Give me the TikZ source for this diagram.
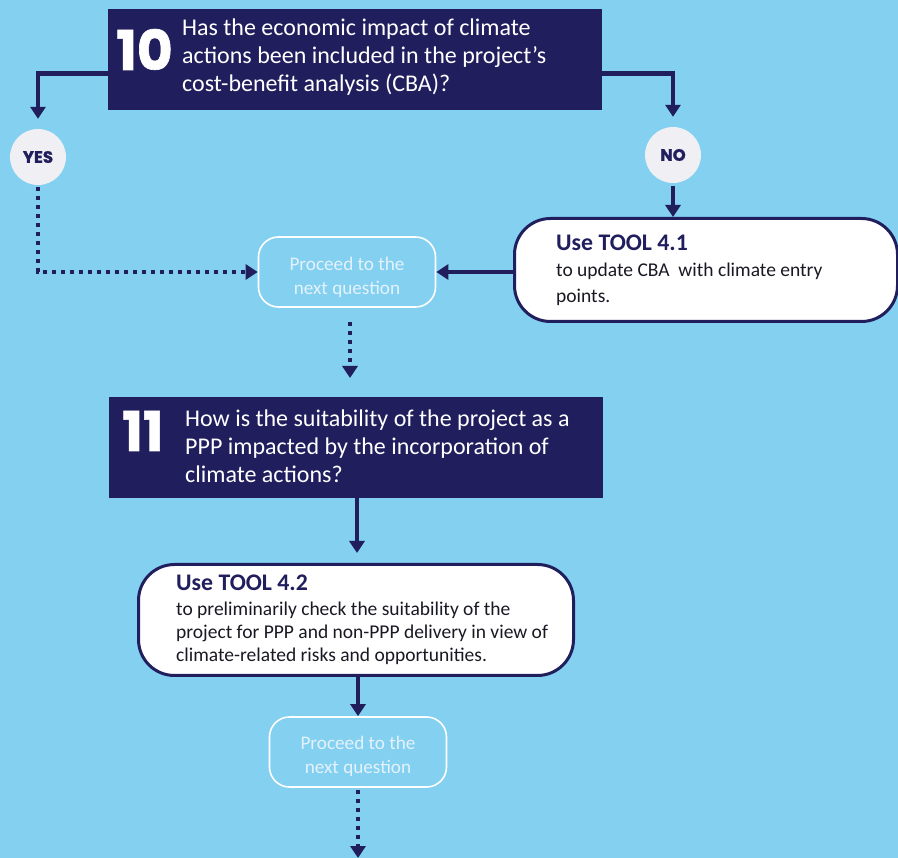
\documentclass[tikz,border=0pt]{standalone}
\usepackage{fontspec}
\setmainfont{Carlito}
\newfontfamily\numfont{Poppins}[BoldFeatures={FakeBold=1.2}]
\usetikzlibrary{arrows.meta,calc}
\definecolor{sky}{RGB}{131,208,241}
\definecolor{navy}{RGB}{33,30,94}
\definecolor{pale}{RGB}{240,240,244}
\definecolor{ghost}{RGB}{228,242,251}
\definecolor{ink}{RGB}{25,25,35}
\begin{document}
\begin{tikzpicture}[x=1pt,y=-1pt,
  question/.style={fill=navy, draw=none, anchor=north west, inner sep=0pt,
    minimum width=494pt, minimum height=101pt},
  % multi-line texts are placed by the baseline of their last line
  qtext/.style={text=white, font=\fontsize{24}{28}\selectfont, align=left,
    anchor=base west, inner sep=0pt},
  qnum/.style={text=white, font=\numfont\bfseries\fontsize{55}{55}\selectfont,
    anchor=base west, inner sep=0pt},
  toolbox/.style={fill=white, draw=navy, line width=3pt, rounded corners=36pt,
    anchor=north west, inner sep=0pt},
  tooltitle/.style={text=navy, font=\bfseries\fontsize{23.8}{26}\selectfont,
    anchor=base west, inner sep=0pt},
  toolbody/.style={text=ink, font=\fontsize{19.5}{23.5}\selectfont, align=left,
    anchor=base west, inner sep=0pt},
  proceed/.style={draw=white, line width=1.6pt, rounded corners=20pt,
    minimum width=177pt, minimum height=70pt, inner sep=0pt},
  proceedtext/.style={text=ghost, align=center,
    font=\fontsize{19.2}{24}\selectfont, inner sep=0pt},
  answer/.style={circle, fill=pale, minimum size=56pt, inner sep=0pt, text=navy,
    font=\numfont\bfseries\fontsize{16.5}{16.5}\selectfont},
  conn/.style={draw=navy, line width=4.5pt, -{Triangle[width=15pt,length=12pt]}},
  dots/.style={draw=navy, line width=4.5pt, dash pattern=on 4pt off 5pt,
    -{Triangle[width=15pt,length=12pt]}}
]
\fill[sky] (0,0) rectangle (898,858);
\useasboundingbox (0,0) rectangle (898,858);

% Question 10
\node[question] (q10) at (108,9) {};
\node[qnum] (n10) at (116,70) {10};
\node[qtext] (t10) at (182,92) {Has the economic impact of climate\\actions been included in the project’s\\cost-benefit analysis (CBA)?};

% Answers
\node[answer] (yes) at (38,157) {YES};
\node[answer] (no) at (673,155) {NO};

% Tool 4.1
\node[toolbox, minimum width=383pt, minimum height=103pt] (t41) at (513,217) {};
\node[tooltitle] (t41a) at (556,251) {Use TOOL 4.1};
\node[toolbody, font=\fontsize{19.5}{26.5}\selectfont] (t41b) at (556,303) {to update CBA\ \ with climate entry\\points.};

% Proceed 1
\node[proceed] (p1) at (347,272) {};
\node[proceedtext] (p1t) at ([yshift=-5pt]p1.center) {Proceed to the\\next question};

% Question 11
\node[question] (q11) at (109,397) {};
\node[qnum] (n11) at (122,451) {11};
\node[qtext] (t11) at (185,483) {How is the suitability of the project as a\\PPP impacted by the incorporation of\\climate actions?};

% Tool 4.2
\node[toolbox, minimum width=435pt, minimum height=111pt] (t42) at (137,563) {};
\node[tooltitle] (t42a) at (176,591) {Use TOOL 4.2};
\node[toolbody] (t42b) at (176,662) {to preliminarily check the suitability of the\\project for PPP and non-PPP delivery in view of\\climate-related risks and opportunities.};

% Proceed 2
\node[proceed] (p2) at (358,752) {};
\node[proceedtext] (p2t) at ([yshift=-4pt]p2.center) {Proceed to the\\next question};
\coordinate (out) at (358,858);

% Connectors
\draw[conn, shorten >=10pt] ([yshift=-14pt]q10.west) -| (yes.north);
\draw[conn, shorten >=10pt] ([yshift=-14pt]q10.east) -| (no.north);
\draw[conn, shorten <=3pt] (no.south) -- (no.south |- t41.north);
\draw[conn] (t41.west |- p1.east) -- (p1.east);
\draw[dots, shorten <=2pt] (yes.south) |- (p1.west);
\draw[dots, shorten <=14pt, shorten >=19pt] (p1.south -| 350,0) -- (q11.north -| 350,0);
\draw[conn, shorten >=10pt] (q11.south -| 357,0) -- (t42.north -| 357,0);
\draw[conn] (t42.south -| p2.north) -- (p2.north);
\draw[dots, shorten <=2pt] (p2.south) -- (out);
\end{tikzpicture}
\end{document}
